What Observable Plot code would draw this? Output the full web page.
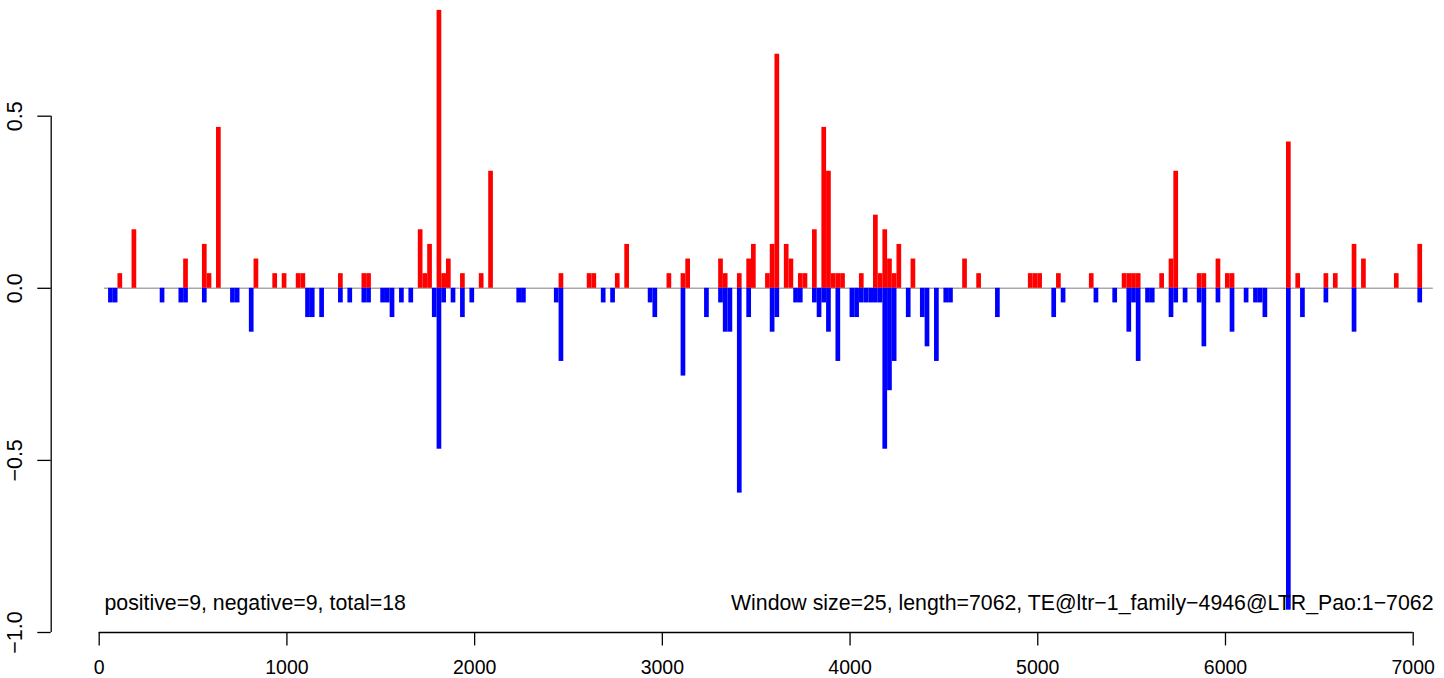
<!DOCTYPE html>
<html>
<head>
<meta charset="utf-8">
<script src="https://cdn.jsdelivr.net/npm/d3@7"></script>
<script src="https://cdn.jsdelivr.net/npm/@observablehq/plot@0.6"></script>
<style>
  html, body { margin: 0; padding: 0; background: #ffffff; }
  svg { display: block; }
</style>
</head>
<body>
<div id="chart"></div>
<script>
// ---- data ----
const windowSize = 25;

// positive windows: start position (bp) and value
const posStart = [100, 175, 450, 550, 575, 625, 825, 925, 975, 1050, 1075, 1275, 1400, 1425,
  1700, 1725, 1750, 1800, 1825, 1850, 1925, 2025, 2075, 2450, 2600, 2625, 2750, 2800,
  3025, 3100, 3125, 3300, 3325, 3400, 3450, 3475, 3550, 3575, 3600, 3650, 3675, 3725, 3750,
  3800, 3850, 3875, 3900, 3925, 3950, 4050, 4125, 4150, 4175, 4200, 4225, 4250, 4325,
  4600, 4675, 4950, 4975, 5000, 5100, 5275, 5450, 5475, 5500, 5525, 5650, 5700, 5725,
  5850, 5875, 5950, 6000, 6025, 6325, 6375, 6525, 6575, 6675, 6725, 6900, 7025];
const posValue = [0.0425, 0.17, 0.085, 0.1275, 0.0425, 0.4675, 0.085, 0.0425, 0.0425, 0.0425, 0.0425, 0.0425, 0.0425, 0.0425,
  0.17, 0.0425, 0.1275, 0.8075, 0.0425, 0.085, 0.0425, 0.0425, 0.34, 0.0425, 0.0425, 0.0425, 0.0425, 0.1275,
  0.0425, 0.0425, 0.085, 0.085, 0.0425, 0.0425, 0.085, 0.1275, 0.0425, 0.1275, 0.68, 0.1275, 0.085, 0.0425, 0.0425,
  0.17, 0.4675, 0.34, 0.0425, 0.0425, 0.0425, 0.0425, 0.2125, 0.0425, 0.17, 0.085, 0.0425, 0.1275, 0.085,
  0.085, 0.0425, 0.0425, 0.0425, 0.0425, 0.0425, 0.0425, 0.0425, 0.0425, 0.0425, 0.0425, 0.0425, 0.085, 0.34,
  0.0425, 0.0425, 0.085, 0.0425, 0.0425, 0.425, 0.0425, 0.0425, 0.0425, 0.1275, 0.085, 0.0425, 0.1275];

// negative windows: start position (bp) and value
const negStart = [50, 75, 325, 425, 450, 550, 700, 725, 800, 1100, 1125, 1175, 1275, 1325, 1400, 1425,
  1500, 1525, 1550, 1600, 1650, 1775, 1800, 1825, 1875, 1925, 1975, 2225, 2250, 2425, 2450,
  2675, 2725, 2925, 2950, 3100, 3225, 3300, 3325, 3350, 3400, 3450, 3575, 3600, 3700, 3725,
  3800, 3825, 3850, 3875, 3925, 4000, 4025, 4050, 4075, 4100, 4125, 4150, 4175, 4200, 4225,
  4300, 4375, 4400, 4450, 4500, 4525, 4775, 5075, 5125, 5300, 5400, 5475, 5500, 5525, 5575,
  5600, 5700, 5725, 5775, 5850, 5875, 5950, 6025, 6100, 6150, 6175, 6200, 6325, 6400, 6525,
  6675, 7025];
const negValue = [-0.0425, -0.0425, -0.0425, -0.0425, -0.0425, -0.0425, -0.0425, -0.0425, -0.1275, -0.085, -0.085, -0.085, -0.0425, -0.0425, -0.0425, -0.0425,
  -0.0425, -0.0425, -0.085, -0.0425, -0.0425, -0.085, -0.4675, -0.0425, -0.0425, -0.085, -0.0425, -0.0425, -0.0425, -0.0425, -0.2125,
  -0.0425, -0.0425, -0.0425, -0.085, -0.255, -0.085, -0.0425, -0.1275, -0.1275, -0.595, -0.085, -0.1275, -0.085, -0.0425, -0.0425,
  -0.0425, -0.085, -0.0425, -0.1275, -0.2125, -0.085, -0.085, -0.0425, -0.0425, -0.0425, -0.0425, -0.0425, -0.4675, -0.2975, -0.2125,
  -0.085, -0.085, -0.17, -0.2125, -0.0425, -0.0425, -0.085, -0.085, -0.0425, -0.0425, -0.0425, -0.1275, -0.0425, -0.2125, -0.0425,
  -0.0425, -0.085, -0.0425, -0.0425, -0.0425, -0.17, -0.0425, -0.1275, -0.0425, -0.0425, -0.0425, -0.085, -0.935, -0.085, -0.0425,
  -0.1275, -0.0425];

const xTicks = [0, 1000, 2000, 3000, 4000, 5000, 6000, 7000];
const yTicks = [-1.0, -0.5, 0.0, 0.5];
const zeroLineX = [28, 7107];
const leftLabel = "positive=9, negative=9, total=18";
const rightLabel = "Window size=25, length=7062, TE@ltr\u22121_family\u22124946@LTR_Pao:1\u22127062";

// ---- table built from the arrays ----
const bars = [
  ...posStart.map((s, i) => ({start: s, value: posValue[i], sign: "positive"})),
  ...negStart.map((s, i) => ({start: s, value: negValue[i], sign: "negative"}))
];

const fmtY = d3.format(".1f");
const font = "'Liberation Sans', Arial, Helvetica, sans-serif";

const chart = Plot.plot({
  width: 1444,
  height: 678,
  marginLeft: 98.7,
  marginRight: 31.3,
  marginTop: 115.7,
  marginBottom: 46,
  style: {fontFamily: font, background: "#ffffff", color: "#000000", overflow: "visible"},
  x: {domain: [xTicks[0], xTicks[xTicks.length - 1]]},
  y: {domain: [yTicks[0], yTicks[yTicks.length - 1]]},
  color: {domain: ["positive", "negative"], range: ["#ff0000", "#0000ff"]},
  marks: [
    Plot.ruleY([0], {x1: zeroLineX[0], x2: zeroLineX[1], stroke: "#a9a9a9", strokeWidth: 1.6}),
    Plot.rect(bars, {x1: "start", x2: d => d.start + windowSize, y1: 0, y2: "value", fill: "sign"}),
    // x axis
    Plot.ruleY([yTicks[0]], {x1: xTicks[0], x2: xTicks[xTicks.length - 1], stroke: "#000", strokeWidth: 1.3}),
    Plot.axisX({ticks: xTicks, tickSize: 13.4, tickPadding: 14.5, tickFormat: d3.format("d"),
      fontSize: 19.5, label: null, strokeWidth: 1.3}),
    // y axis
    Plot.ruleX([xTicks[0]], {y1: yTicks[0], y2: yTicks[yTicks.length - 1], dx: -48, stroke: "#000", strokeWidth: 1.3}),
    Plot.axisY({ticks: yTicks, anchor: "left", tickSize: 13.4, dx: -48, tickFormat: () => "", label: null, strokeWidth: 1.3}),
    Plot.text(yTicks, {y: d => d, frameAnchor: "left", dx: -77.2, rotate: -90, text: d => fmtY(d),
      textAnchor: "middle", lineAnchor: "bottom", fontSize: 21.5, fill: "#000"}),
    // annotations
    Plot.text([leftLabel], {frameAnchor: "bottom-left", dx: 5.3, dy: -23, text: d => d,
      textAnchor: "start", lineAnchor: "bottom", fontSize: 21.3, fill: "#000"}),
    Plot.text([rightLabel], {frameAnchor: "bottom-right", dx: 20.3, dy: -23, text: d => d,
      textAnchor: "end", lineAnchor: "bottom", fontSize: 21.3, fill: "#000"})
  ]
});

document.getElementById("chart").appendChild(chart);
</script>
</body>
</html>
